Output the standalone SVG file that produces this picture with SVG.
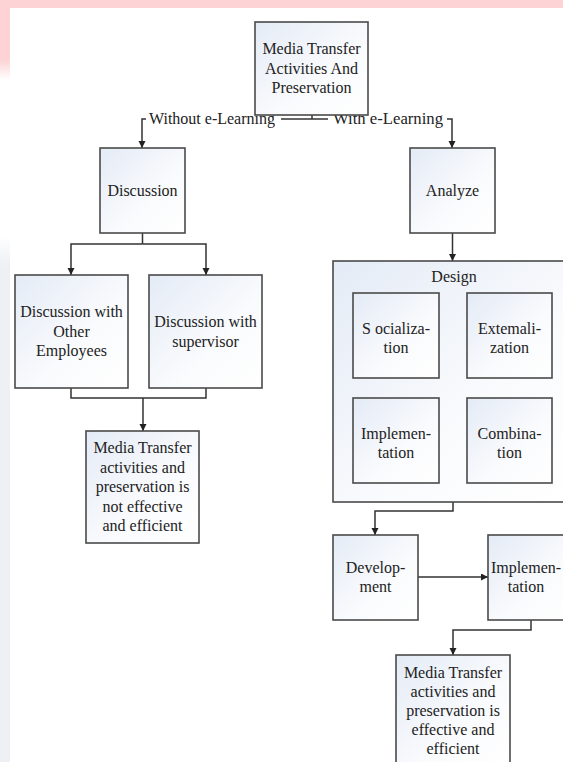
<svg xmlns="http://www.w3.org/2000/svg" width="563" height="762" viewBox="0 0 563 762">
<defs>
<linearGradient id="boxg" x1="0" y1="0" x2="1" y2="1">
<stop offset="0" stop-color="#e4ebf6"/>
<stop offset="0.6" stop-color="#fafbfd"/>
<stop offset="1" stop-color="#ffffff"/>
</linearGradient>
<linearGradient id="pinkL" x1="0" y1="0" x2="0" y2="1">
<stop offset="0" stop-color="#fdd3d6"/>
<stop offset="0.75" stop-color="#fdd3d6"/>
<stop offset="1" stop-color="#ffffff"/>
</linearGradient>
<linearGradient id="grayL" x1="0" y1="0" x2="0" y2="1">
<stop offset="0" stop-color="#ffffff"/>
<stop offset="0.06" stop-color="#eef0f4"/>
<stop offset="1" stop-color="#eef0f4"/>
</linearGradient>
<marker id="arr" markerUnits="userSpaceOnUse" markerWidth="8" markerHeight="8" refX="7" refY="3.5" orient="auto">
<path d="M0,0 L7,3.5 L0,7 z" fill="#222"/>
</marker>
<style>
.box{fill:url(#boxg);stroke:#4a4a4a;stroke-width:1.6}
.t{font-family:"Liberation Serif","Times New Roman",serif;font-size:16px;fill:#222;text-anchor:middle}
.c{fill:none;stroke:#333;stroke-width:1.5}
</style>
</defs>
<rect x="0" y="0" width="563" height="762" fill="#ffffff"/>
<rect x="0" y="0" width="563" height="8" fill="#fdd3d6"/>
<rect x="0" y="0" width="10" height="80" fill="url(#pinkL)"/>
<rect x="0" y="235" width="10" height="527" fill="url(#grayL)"/>

<g id="connectors">
<path class="c" d="M312,115 V119"/>
<path class="c" d="M146,119 H142 V148" marker-end="url(#arr)"/>
<path class="c" d="M281,119 H328"/>
<path class="c" d="M447,119 H452 V148" marker-end="url(#arr)"/>
<path class="c" d="M142.5,233 V244"/>
<path class="c" d="M142.5,244 H71 V275" marker-end="url(#arr)"/>
<path class="c" d="M142.5,244 H206 V275" marker-end="url(#arr)"/>
<path class="c" d="M71,388 V398 H206 V388"/>
<path class="c" d="M143,398 V431" marker-end="url(#arr)"/>
<path class="c" d="M452.5,233 V261" marker-end="url(#arr)"/>
<path class="c" d="M453,502 V511 H375 V535" marker-end="url(#arr)"/>
<path class="c" d="M418,577 H488" marker-end="url(#arr)"/>
<path class="c" d="M531,620 V630 H453 V655" marker-end="url(#arr)"/>
<text class="t" x="212" y="124" textLength="126" lengthAdjust="spacingAndGlyphs">Without e-Learning</text>
<text class="t" x="388" y="124" textLength="110" lengthAdjust="spacingAndGlyphs">With e-Learning</text>
</g>

<g id="top">
<rect class="box" x="255" y="22" width="113" height="93"/>
<text class="t" x="311.5" y="54">Media Transfer</text>
<text class="t" x="311.5" y="73.5">Activities And</text>
<text class="t" x="311.5" y="93">Preservation</text>
</g>

<g id="discussion">
<rect class="box" x="100" y="148" width="85" height="85"/>
<text class="t" x="142.5" y="196">Discussion</text>
</g>

<g id="analyze">
<rect class="box" x="410" y="148" width="85" height="85"/>
<text class="t" x="452.5" y="196">Analyze</text>
</g>

<g id="disc-other">
<rect class="box" x="15" y="275" width="113" height="113"/>
<text class="t" x="71.5" y="317">Discussion with</text>
<text class="t" x="71.5" y="337">Other</text>
<text class="t" x="71.5" y="356">Employees</text>
</g>

<g id="disc-supervisor">
<rect class="box" x="149" y="275" width="113" height="113"/>
<text class="t" x="205.5" y="327">Discussion with</text>
<text class="t" x="205.5" y="347">supervisor</text>
</g>

<g id="result-without">
<rect class="box" x="86" y="431" width="113" height="112"/>
<text class="t" x="142.5" y="453">Media Transfer</text>
<text class="t" x="142.5" y="472.5">activities and</text>
<text class="t" x="142.5" y="492">preservation is</text>
<text class="t" x="142.5" y="511.5">not effective</text>
<text class="t" x="142.5" y="531">and efficient</text>
</g>

<g id="design">
<rect class="box" x="333" y="261" width="242" height="241"/>
<text class="t" x="454" y="282">Design</text>
</g>

<g id="socialization">
<rect class="box" x="353" y="293" width="86" height="85"/>
<text class="t" x="396" y="334">S ocializa-</text>
<text class="t" x="396" y="352.5">tion</text>
</g>

<g id="externalization">
<rect class="box" x="467" y="293" width="85" height="85"/>
<text class="t" x="509.5" y="334">Extemali-</text>
<text class="t" x="509.5" y="352.5">zation</text>
</g>

<g id="implementation-inner">
<rect class="box" x="353" y="398" width="86" height="85"/>
<text class="t" x="396" y="439">Implemen-</text>
<text class="t" x="396" y="457.5">tation</text>
</g>

<g id="combination">
<rect class="box" x="467" y="398" width="85" height="85"/>
<text class="t" x="509.5" y="439">Combina-</text>
<text class="t" x="509.5" y="457.5">tion</text>
</g>

<g id="development">
<rect class="box" x="333" y="535" width="85" height="85"/>
<text class="t" x="375.5" y="573">Develop-</text>
<text class="t" x="375.5" y="592">ment</text>
</g>

<g id="implementation">
<rect class="box" x="488" y="535" width="85" height="85"/>
<text class="t" x="526" y="573">Implemen-</text>
<text class="t" x="526" y="592">tation</text>
</g>

<g id="result-with">
<rect class="box" x="396" y="655" width="114" height="112"/>
<text class="t" x="453" y="678">Media Transfer</text>
<text class="t" x="453" y="697">activities and</text>
<text class="t" x="453" y="716">preservation is</text>
<text class="t" x="453" y="735">effective and</text>
<text class="t" x="453" y="754">efficient</text>
</g>
</svg>
